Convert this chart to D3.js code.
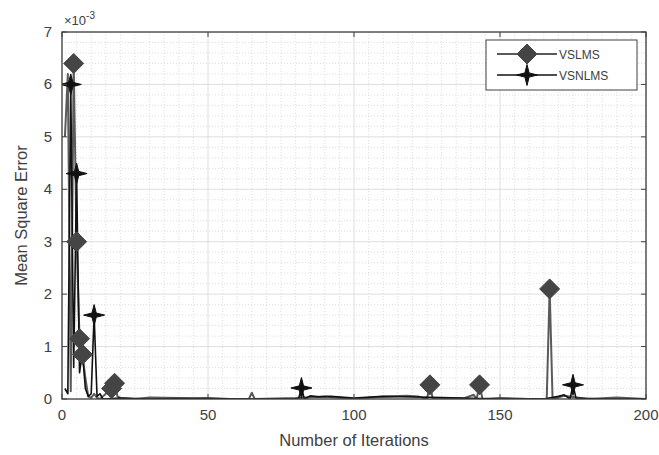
<!DOCTYPE html>
<html>
<head>
<meta charset="utf-8">
<script src="https://cdn.jsdelivr.net/npm/d3@7"></script>
<style>
  html, body { margin: 0; padding: 0; background: #fff; }
  svg { display: block; font-family: "Liberation Sans", Arial, sans-serif; }
</style>
</head>
<body>
<svg id="chart" width="659" height="455"></svg>
<script>
// values are in units of 1e-3
const vslmsX = [1, 2, 3, 4, 5, 6, 7, 8, 9, 10, 11, 12, 13, 14, 15, 16, 17, 18, 19, 20, 25, 30, 40, 50, 64, 65, 66, 80, 90, 100, 108, 112, 118, 122, 125, 126, 127, 138, 141, 142, 143, 144, 150, 160, 166, 167, 168, 172, 180, 190, 200];
const vslmsY = [5.0, 6.2, 0.15, 6.4, 3.0, 1.15, 0.85, 0.4, 0.05, 0.02, 0.1, 0.02, 0.0, 0.05, 0.1, 0.15, 0.2, 0.3, 0.05, 0.02, 0.0, 0.03, 0.02, 0.0, 0.0, 0.12, 0.0, 0.02, 0.05, 0.0, 0.04, 0.05, 0.06, 0.05, 0.0, 0.27, 0.0, 0.02, 0.08, 0.0, 0.27, 0.0, 0.02, 0.0, 0.0, 2.1, 0.0, 0.06, 0.0, 0.03, 0.0];
const vslmsMarkers = [4, 5, 6, 7, 17, 18, 126, 143, 167];

const vsnlmsX = [1, 2, 3, 4, 5, 6, 7, 8, 9, 10, 11, 12, 13, 14, 20, 30, 50, 60, 81, 82, 83, 85, 88, 92, 100, 110, 130, 150, 165, 170, 172, 174, 175, 176, 185, 200];
const vsnlmsY = [0.2, 0.1, 6.0, 0.6, 4.3, 0.5, 0.9, 0.2, 0.05, 0.1, 1.6, 0.05, 0.1, 0.0, 0.02, 0.0, 0.02, 0.0, 0.0, 0.21, 0.0, 0.06, 0.04, 0.05, 0.02, 0.05, 0.03, 0.0, 0.0, 0.05, 0.08, 0.0, 0.27, 0.02, 0.0, 0.0];
const vsnlmsMarkers = [3, 5, 11, 82, 175];

const xTicks = [0, 50, 100, 150, 200];
const yTicks = [0, 1, 2, 3, 4, 5, 6, 7];
const seriesNames = ["VSLMS", "VSNLMS"];

const svg = d3.select("#chart");
const pLeft = 62, pRight = 646, pTop = 32, pBottom = 399;
const axisColor = "#404040";
const grayLine = "#5a5a5a";

const x = d3.scaleLinear().domain([0, 200]).range([pLeft, pRight]);
const y = d3.scaleLinear().domain([0, 7]).range([pBottom, pTop]);

svg.append("defs").append("clipPath").attr("id", "clip")
  .append("rect").attr("x", pLeft).attr("y", pTop).attr("width", pRight - pLeft).attr("height", pBottom - pTop);

// grid: minor dotted, major solid
const grid = svg.append("g");
d3.range(0, 201, 5).filter((v) => v % 50 !== 0).forEach((v) => {
  grid.append("line").attr("x1", x(v)).attr("x2", x(v)).attr("y1", pTop).attr("y2", pBottom)
    .attr("stroke", "#d4d4d4").attr("stroke-width", 0.8).attr("stroke-dasharray", "1,2");
});
d3.range(0, 7.01, 0.2).forEach((v) => {
  if (Math.abs(v - Math.round(v)) < 1e-6) return;
  grid.append("line").attr("x1", pLeft).attr("x2", pRight).attr("y1", y(v)).attr("y2", y(v))
    .attr("stroke", "#d4d4d4").attr("stroke-width", 0.8).attr("stroke-dasharray", "1,2");
});
xTicks.forEach((v) => {
  grid.append("line").attr("x1", x(v)).attr("x2", x(v)).attr("y1", pTop).attr("y2", pBottom)
    .attr("stroke", "#dedede").attr("stroke-width", 1);
});
yTicks.forEach((v) => {
  grid.append("line").attr("x1", pLeft).attr("x2", pRight).attr("y1", y(v)).attr("y2", y(v))
    .attr("stroke", "#dedede").attr("stroke-width", 1);
});

function starPath(r, ri) {
  const pts = [];
  for (let i = 0; i < 8; i++) {
    const a = (i * Math.PI) / 4 - Math.PI / 2;
    const rr = i % 2 === 0 ? r : ri;
    pts.push([rr * Math.cos(a), rr * Math.sin(a)]);
  }
  return "M" + pts.map((p) => p.join(",")).join("L") + "Z";
}
function diamondPath(r) {
  return `M0,${-r}L${r},0L0,${r}L${-r},0Z`;
}

const line = d3.line().x((d) => x(d[0])).y((d) => y(d[1]));
const plot = svg.append("g").attr("clip-path", "url(#clip)");

const vslms = vslmsX.map((v, i) => [v, vslmsY[i]]);
const vsnlms = vsnlmsX.map((v, i) => [v, vsnlmsY[i]]);

plot.append("path").datum(vslms).attr("fill", "none").attr("stroke", grayLine)
  .attr("stroke-width", 2).attr("stroke-linejoin", "round").attr("d", line);
plot.append("path").datum(vsnlms).attr("fill", "none").attr("stroke", "#111")
  .attr("stroke-width", 1.6).attr("stroke-linejoin", "round").attr("d", line);

const markerLayer = svg.append("g").attr("clip-path", "url(#clip)");
vslmsMarkers.forEach((m) => {
  const i = vslmsX.indexOf(m);
  markerLayer.append("path").attr("d", diamondPath(10))
    .attr("transform", `translate(${x(vslmsX[i])},${y(vslmsY[i])})`)
    .attr("fill", "#454545").attr("stroke", "#454545").attr("stroke-width", 1);
});
vsnlmsMarkers.forEach((m) => {
  const i = vsnlmsX.indexOf(m);
  markerLayer.append("path").attr("d", starPath(10.5, 3))
    .attr("transform", `translate(${x(vsnlmsX[i])},${y(vsnlmsY[i])})`)
    .attr("fill", "#111").attr("stroke", "#111").attr("stroke-width", 1);
});

// axes box with inward ticks on all sides
const ax = svg.append("g");
ax.append("rect").attr("x", pLeft).attr("y", pTop).attr("width", pRight - pLeft).attr("height", pBottom - pTop)
  .attr("fill", "none").attr("stroke", axisColor).attr("stroke-width", 1.3);
xTicks.forEach((v) => {
  ax.append("line").attr("x1", x(v)).attr("x2", x(v)).attr("y1", pBottom).attr("y2", pBottom - 5).attr("stroke", axisColor);
  ax.append("line").attr("x1", x(v)).attr("x2", x(v)).attr("y1", pTop).attr("y2", pTop + 5).attr("stroke", axisColor);
  ax.append("text").attr("x", x(v)).attr("y", pBottom + 21).attr("text-anchor", "middle")
    .attr("font-size", 15).attr("fill", axisColor).text(v);
});
yTicks.forEach((v) => {
  ax.append("line").attr("x1", pLeft).attr("x2", pLeft + 5).attr("y1", y(v)).attr("y2", y(v)).attr("stroke", axisColor);
  ax.append("line").attr("x1", pRight).attr("x2", pRight - 5).attr("y1", y(v)).attr("y2", y(v)).attr("stroke", axisColor);
  ax.append("text").attr("x", pLeft - 10).attr("y", y(v) + 5).attr("text-anchor", "end")
    .attr("font-size", 15).attr("fill", axisColor).text(v);
});

// exponent label
const expo = ax.append("text").attr("x", pLeft + 2).attr("y", pTop - 7).attr("font-size", 13).attr("fill", axisColor);
expo.append("tspan").text("\u00d710");
expo.append("tspan").attr("dy", -6).attr("font-size", 10).text("-3");

ax.append("text").attr("x", (pLeft + pRight) / 2).attr("y", 446).attr("text-anchor", "middle")
  .attr("font-size", 16.5).attr("fill", axisColor).text("Number of Iterations");
ax.append("text").attr("transform", `translate(27,${(pTop + pBottom) / 2}) rotate(-90)`)
  .attr("text-anchor", "middle").attr("font-size", 16.5).attr("fill", axisColor).text("Mean Square Error");

// legend
const lg = svg.append("g");
lg.append("rect").attr("x", 486).attr("y", 40).attr("width", 151).attr("height", 50)
  .attr("fill", "#fff").attr("stroke", axisColor).attr("stroke-width", 1);
const rows = [54, 75];
rows.forEach((ry, i) => {
  lg.append("line").attr("x1", 497).attr("x2", 557).attr("y1", ry).attr("y2", ry)
    .attr("stroke", i === 0 ? grayLine : "#111").attr("stroke-width", i === 0 ? 2 : 1.6);
  lg.append("path").attr("d", i === 0 ? diamondPath(10) : starPath(10.5, 3))
    .attr("transform", `translate(527,${ry})`)
    .attr("fill", i === 0 ? "#454545" : "#111").attr("stroke", i === 0 ? "#454545" : "#111").attr("stroke-width", 1);
  lg.append("text").attr("x", 559).attr("y", ry + 4.5).attr("font-size", 12).attr("fill", axisColor).text(seriesNames[i]);
});
</script>
</body>
</html>
